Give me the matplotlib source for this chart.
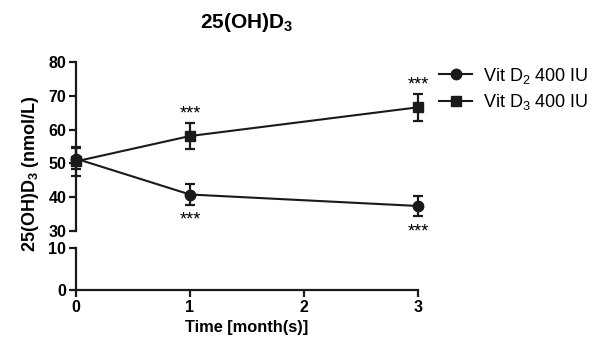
import numpy as np
import matplotlib
matplotlib.use("Agg")
import matplotlib.pyplot as plt

plt.rcParams['font.family'] = ['Liberation Sans', 'DejaVu Sans']
plt.rcParams['mathtext.fontset'] = 'custom'
plt.rcParams['mathtext.rm'] = 'Liberation Sans'
plt.rcParams['mathtext.it'] = 'Liberation Sans:italic'
plt.rcParams['mathtext.bf'] = 'Liberation Sans:bold'

# dados
meses = [0, 1, 3]
vit_d2 = [51.4, 40.8, 37.4]
vit_d2_err = [3.2, 3.0, 3.0]
vit_d3 = [50.6, 58.1, 66.6]
vit_d3_err = [4.2, 3.9, 4.0]
estrelas = ['', '***', '***']

fig = plt.figure(figsize=(6.02, 3.48), dpi=100)
ax_top = fig.add_axes([0.1262, 0.3362, 0.5681, 0.4856])
ax_bot = fig.add_axes([0.1262, 0.1667, 0.5681, 0.1207])

cor = '#1a1a1a'
estilo = dict(color=cor, lw=1.5, capsize=3.5, capthick=1.6, elinewidth=1.6,
              clip_on=False, zorder=5)
ax_top.errorbar(meses, vit_d2, yerr=vit_d2_err, marker='o', ms=7.5, **estilo)
ax_top.errorbar(meses, vit_d3, yerr=vit_d3_err, marker='s', ms=7, **estilo)

for ax in (ax_top, ax_bot):
    ax.set_xlim(0, 3)
    for s in ['top', 'right']:
        ax.spines[s].set_visible(False)
    for s in ['left', 'bottom']:
        ax.spines[s].set_linewidth(1.6)
        ax.spines[s].set_color(cor)
    ax.tick_params(width=1.6, length=5, color=cor, labelsize=11.5, pad=2)

ax_top.set_ylim(30, 80)
ax_top.set_yticks([30, 40, 50, 60, 70, 80])
ax_top.spines['bottom'].set_visible(False)
ax_top.set_xticks([])

ax_bot.set_ylim(0, 10)
ax_bot.set_yticks([0, 10])
ax_bot.set_xticks([0, 1, 2, 3])
ax_bot.set_xlabel('Time [month(s)]', fontsize=11.8, fontweight='bold', labelpad=4)

for ax in (ax_top, ax_bot):
    for lab in ax.get_yticklabels() + ax.get_xticklabels():
        lab.set_fontweight('bold')

# asteriscos de significancia
for x, d2, e2, d3, e3, s in zip(meses, vit_d2, vit_d2_err, vit_d3, vit_d3_err, estrelas):
    if s:
        ax_top.annotate(s, (x, d3 + e3), xytext=(0, 0), textcoords='offset points',
                        ha='center', va='bottom', fontsize=13)
        ax_top.annotate(s, (x, d2 - e2), xytext=(0, -5), textcoords='offset points',
                        ha='center', va='top', fontsize=13)

fig.text(0.41, 0.935, r'$\mathbf{25(OH)D_3}$', ha='center', va='center', fontsize=15)
fig.text(0.05, 0.50, r'$\mathbf{25(OH)D_3}$ (nmol/L)', rotation=90, ha='center',
         va='center', fontsize=13, fontweight='bold')

h1, = ax_top.plot([], [], marker='o', color=cor, lw=1.5, ms=7.5)
h2, = ax_top.plot([], [], marker='s', color=cor, lw=1.5, ms=7)
fig.legend([h1, h2], [r'Vit D$_2$ 400 IU', r'Vit D$_3$ 400 IU'], loc='center left',
           bbox_to_anchor=(0.703, 0.745), frameon=False, fontsize=13,
           handlelength=1.8, handletextpad=0.6, labelspacing=0.35)

fig.savefig('out.png', dpi=100)
